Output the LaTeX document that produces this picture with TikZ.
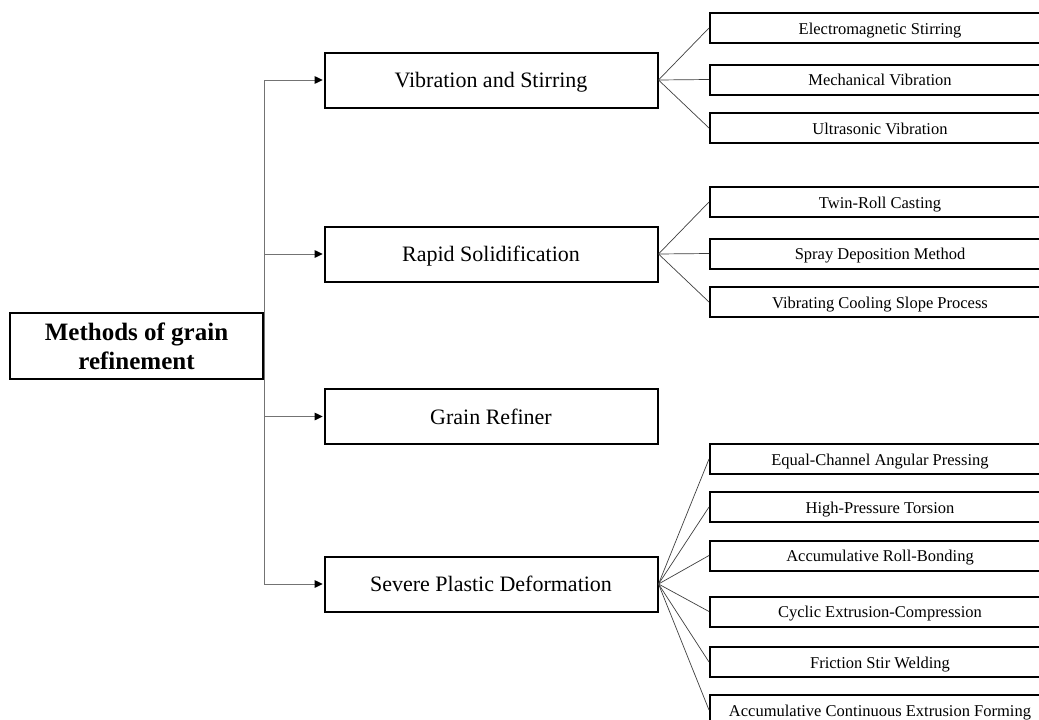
\documentclass[tikz,border=0pt]{standalone}
\usepackage{fontspec}
\setmainfont{Liberation Serif}
\usetikzlibrary{arrows.meta}
\tikzset{
  rootbox/.style={draw=black, line width=2pt, rectangle, inner sep=0pt, minimum width=253pt, minimum height=66pt, align=center, font=\fontsize{25}{29}\selectfont\bfseries},
  midbox/.style={draw=black, line width=2pt, rectangle, inner sep=0pt, minimum width=333pt, minimum height=55pt, text height=15.4pt, text depth=0pt, font=\fontsize{22}{26}\selectfont},
  leafbox/.style={draw=black, line width=2pt, rectangle, inner sep=0pt, minimum width=340pt, minimum height=30pt, text height=12.4pt, text depth=0pt, font=\fontsize{16.5}{19}\selectfont},
  trunk/.style={draw=black!55, line width=1pt},
  arr/.style={trunk, -{Triangle[length=8pt,width=7.5pt,color=black]}, shorten >=0.8pt},
  fan/.style={draw=black!75, line width=0.7pt}
}
\begin{document}
\begin{tikzpicture}[x=1pt,y=-1pt]
\useasboundingbox (0,0) rectangle (1039,720);
\clip (0,0) rectangle (1039,720);
\fill[white] (0,0) rectangle (1039,720);

\node[rootbox] (root) at (136.5,346) {Methods of grain\\refinement};

\node[midbox] (vib) at (491,80) {Vibration and Stirring};
\node[midbox] (rap) at (491,254) {Rapid Solidification};
\node[midbox] (gra) at (491,416.5) {Grain Refiner};
\node[midbox] (sev) at (491,584) {Severe Plastic Deformation};

\node[leafbox] (l1) at (880,28) {Electromagnetic Stirring};
\node[leafbox] (l2) at (880,79.5) {Mechanical Vibration};
\node[leafbox] (l3) at (880,128) {Ultrasonic Vibration};
\node[leafbox] (l4) at (880,202) {Twin-Roll Casting};
\node[leafbox] (l5) at (880,253.5) {Spray Deposition Method};
\node[leafbox] (l6) at (880,302) {Vibrating Cooling Slope Process};
\node[leafbox] (l7) at (880,459) {Equal-Channel Angular Pressing};
\node[leafbox] (l8) at (880,507) {High-Pressure Torsion};
\node[leafbox] (l9) at (880,555.5) {Accumulative Roll-Bonding};
\node[leafbox] (l10) at (880,611.5) {Cyclic Extrusion-Compression};
\node[leafbox] (l11) at (880,662) {Friction Stir Welding};
\node[leafbox] (l12) at (880,710) {Accumulative Continuous Extrusion Forming};

\coordinate (tt) at (root.east |- vib.west);
\coordinate (tb) at (root.east |- sev.west);
\draw[trunk] (tt) -- (tb);
\draw[arr] (tt) -- (vib.west);
\draw[arr] (root.east |- rap.west) -- (rap.west);
\draw[arr] (root.east |- gra.west) -- (gra.west);
\draw[arr] (tb) -- (sev.west);

\foreach \l in {l1,l2,l3} \draw[fan] (vib.east) -- (\l.west);
\foreach \l in {l4,l5,l6} \draw[fan] (rap.east) -- (\l.west);
\foreach \l in {l7,l8,l9,l10,l11,l12} \draw[fan] (sev.east) -- (\l.west);
\end{tikzpicture}
\end{document}
